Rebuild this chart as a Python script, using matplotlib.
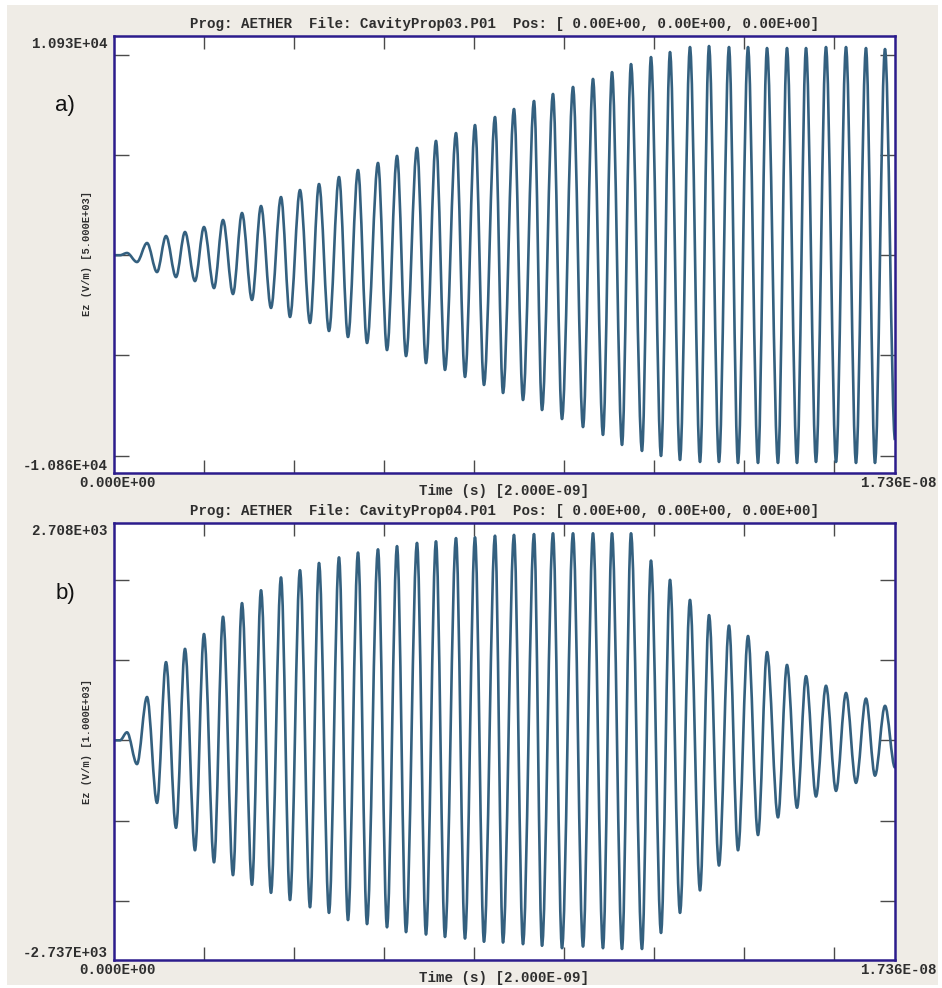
import matplotlib.pyplot as plt
from matplotlib.path import Path
from matplotlib.patches import PathPatch, Rectangle

# turning points of the probe signal (ns), shared by both runs
t_ns = [0.000, 0.133,
        0.289, 0.511,
        0.734, 0.956, 1.156, 1.378, 1.578, 1.800, 2.000, 2.223, 2.423, 2.645,
        2.845, 3.067, 3.268, 3.490, 3.712, 3.912, 4.134, 4.357, 4.557, 4.779,
        5.001, 5.201, 5.424, 5.624, 5.868, 6.068, 6.291, 6.491, 6.735, 6.935,
        7.157, 7.357, 7.602, 7.802, 8.024, 8.224, 8.469, 8.647, 8.891, 9.091,
        9.336, 9.514, 9.758, 9.958, 10.203, 10.425, 10.647, 10.869, 11.070, 11.292,
        11.492, 11.736, 11.936, 12.159, 12.359, 12.581, 12.803, 13.026, 13.226, 13.448,
        13.670, 13.870, 14.093, 14.315, 14.515, 14.759, 14.959, 15.182, 15.382, 15.604,
        15.826, 16.049, 16.271, 16.493, 16.715, 16.915, 17.138, 17.360]

# Ez (V/m), CavityProp03
ez_a = [0, 0,
        110, -340,
        608, -840, 957, -1090, 1157, -1290, 1406, -1640, 1755, -1935,
        2104, -2230, 2453, -2630, 2900, -3080, 3250, -3380, 3550, -3780,
        3900, -4080, 4250, -4380, 4600, -4730, 4950, -5030, 5350, -5380,
        5700, -5720, 6090, -6070, 6490, -6470, 6890, -6870, 7290, -7220,
        7690, -7720, 8040, -8170, 8390, -8570, 8790, -8960, 9130, -9460,
        9530, -9760, 9880, -10010, 10130, -10210, 10380, -10310, 10430, -10310,
        10380, -10360, 10380, -10360, 10330, -10360, 10330, -10360, 10330, -10310,
        10380, -10310, 10380, -10360, 10330, -10360, 10280, -9210]

# Ez (V/m), CavityProp04
ez_b = [0, 0,
        100, -296,
        540, -780, 975, -1090, 1140, -1370, 1325, -1520, 1540, -1680,
        1710, -1800, 1870, -1900, 2030, -1990, 2120, -2080, 2210, -2150,
        2280, -2240, 2340, -2290, 2380, -2330, 2420, -2390, 2460, -2420,
        2480, -2450, 2520, -2470, 2530, -2510, 2550, -2520, 2560, -2540,
        2570, -2560, 2580, -2590, 2580, -2570, 2580, -2590, 2580, -2600,
        2580, -2600, 2240, -2400, 2000, -2150, 1750, -1870, 1560, -1560,
        1430, -1370, 1300, -1180, 1100, -960, 940, -840, 800, -700,
        680, -630, 590, -530, 520, -440, 430, -340]

t_max = 17.36
xticks = [2, 4, 6, 8, 10, 12, 14, 16]

BG = '#efece6'
FRAME = '#2c1c8c'
LINE = '#34607f'
TXT = '#2e2e2e'
MONO = 'Liberation Mono'

W, H = 942, 988
fig = plt.figure(figsize=(W / 100, H / 100), dpi=100)
fig.patch.set_facecolor('white')
fig.add_artist(Rectangle((7 / W, 1 - 985 / H), 931 / W, 980 / H,
                         transform=fig.transFigure, facecolor=BG, edgecolor='none', zorder=-10))


def px(x, y):
    return x / W, 1 - y / H


def wave_path(t, v):
    # smooth half-wave between successive turning points
    verts = [(t[0], v[0])]
    codes = [Path.MOVETO]
    for i in range(1, len(t)):
        dt = t[i] - t[i - 1]
        verts += [(t[i - 1] + 0.34 * dt, v[i - 1]), (t[i] - 0.34 * dt, v[i]), (t[i], v[i])]
        codes += [Path.CURVE4] * 3
    return Path(verts, codes)


def panel(top_px, ez, ylo, yhi, yticks, fname, ytxt, ystep, tag):
    bottom_px = top_px + 437
    ax = fig.add_axes([114 / W, 1 - bottom_px / H, 781 / W, 437 / H])
    ax.set_facecolor('white')
    ax.set_xlim(0, t_max)
    ax.set_ylim(ylo, yhi)
    ax.set_xticks(xticks)
    ax.set_yticks(yticks)
    ax.tick_params(direction='in', top=True, right=True, labelbottom=False,
                   labelleft=False, color='#4a4a4a', width=1.0)
    ax.tick_params(axis='x', length=9.5)
    ax.tick_params(axis='y', length=11)
    for s in ax.spines.values():
        s.set_color(FRAME)
        s.set_linewidth(1.8)
        s.set_zorder(5)
    ax.add_patch(PathPatch(wave_path(t_ns, ez), facecolor='none', edgecolor=LINE,
                           linewidth=1.9, joinstyle='round', zorder=3))

    kw = dict(family=MONO, weight='bold', fontsize=10.2, color=TXT)
    fig.text(*px(505, top_px - 12),
             'Prog: AETHER  File: %s  Pos: [ 0.00E+00, 0.00E+00, 0.00E+00]' % fname,
             ha='center', va='center', **kw)
    fig.text(*px(108, top_px + 8), ytxt[0], ha='right', va='center', **kw)
    fig.text(*px(108, bottom_px - 7), ytxt[1], ha='right', va='center', **kw)
    fig.text(*px(118, bottom_px + 10), '0.000E+00', ha='center', va='center', **kw)
    fig.text(*px(937, bottom_px + 10), '%.3E' % (t_max * 1e-9), ha='right', va='center', **kw)
    fig.text(*px(504, bottom_px + 18), 'Time (s) [2.000E-09]', ha='center', va='center', **kw)
    fig.text(*px(87, top_px + 218), 'Ez (V/m) [%s]' % ystep, rotation=90,
             ha='center', va='center', family=MONO, weight='bold', fontsize=7.5, color=TXT)
    fig.text(*px(65, top_px + 70), tag, ha='center', va='center',
             family='Liberation Sans', fontsize=16, color='#111111')


panel(36, ez_a, -10860, 10930, [-10000, -5000, 0, 5000, 10000],
      'CavityProp03.P01', ('1.093E+04', '-1.086E+04'), '5.000E+03', 'a)')
panel(523, ez_b, -2737, 2708, [-2000, -1000, 0, 1000, 2000],
      'CavityProp04.P01', ('2.708E+03', '-2.737E+03'), '1.000E+03', 'b)')

fig.savefig('out.png', dpi=100, facecolor=fig.get_facecolor())
